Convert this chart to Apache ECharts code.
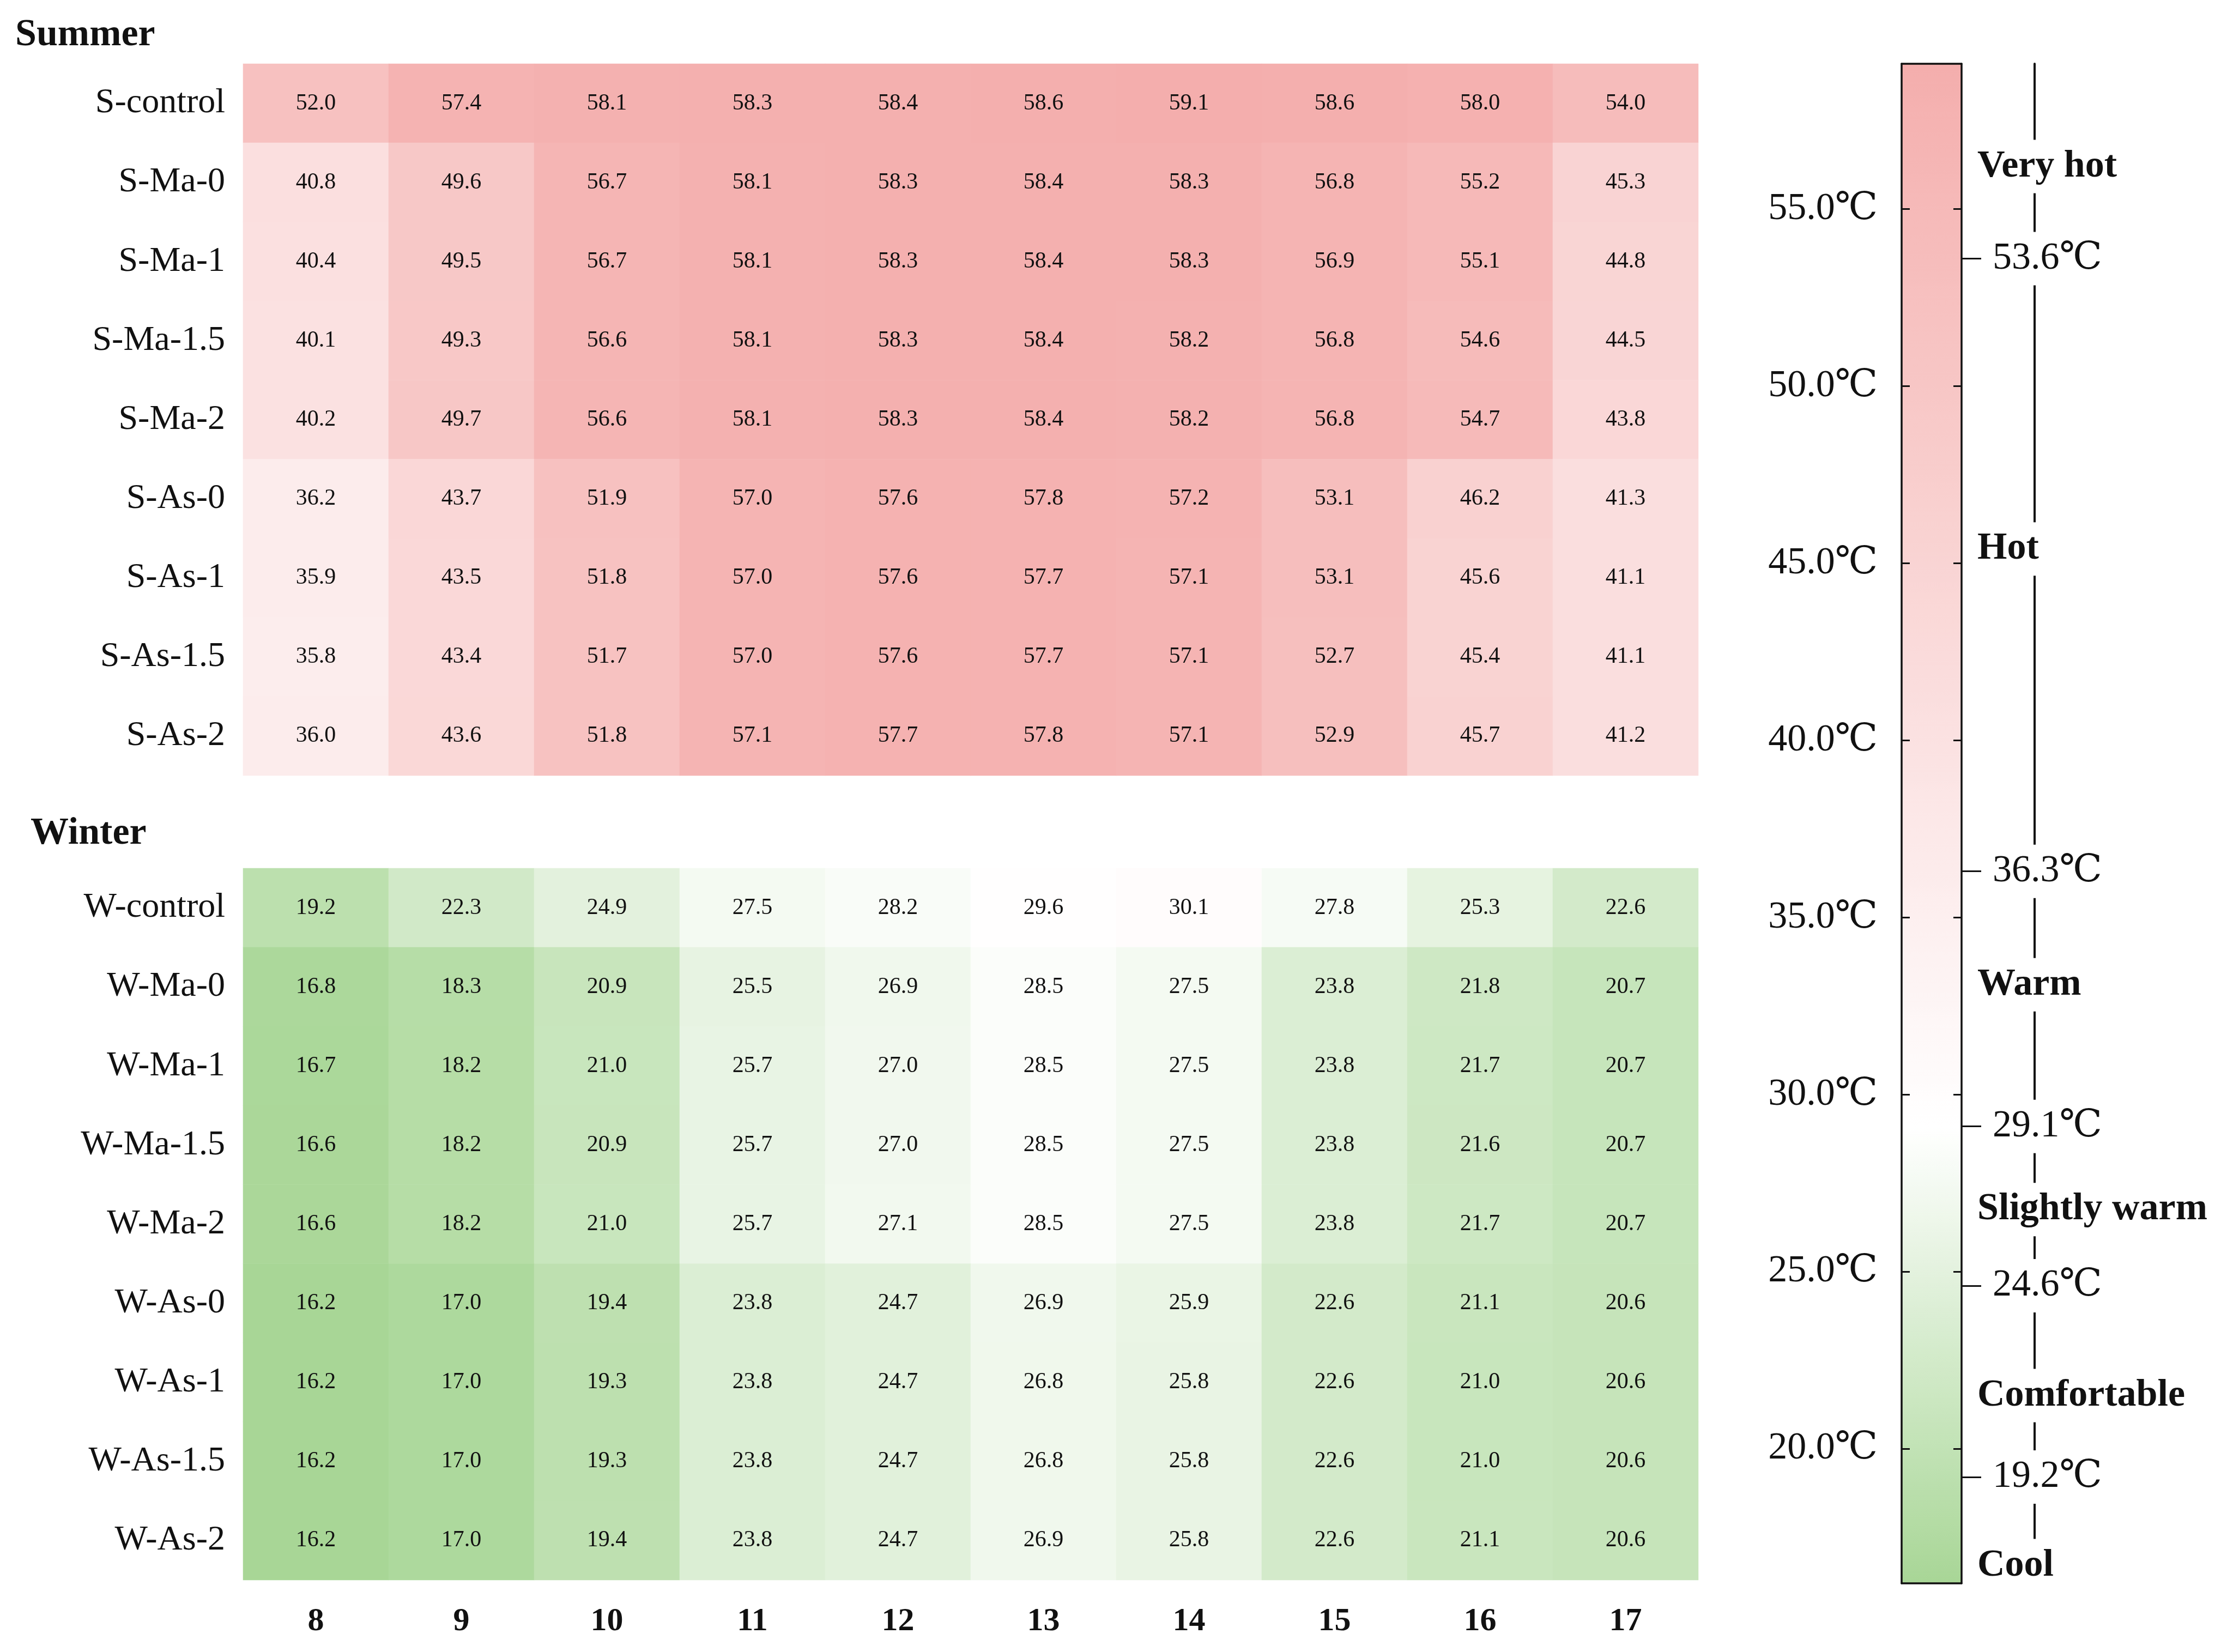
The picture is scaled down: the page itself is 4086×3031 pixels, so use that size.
<!DOCTYPE html>
<html>
<head>
<meta charset="utf-8">
<title>Summer / Winter temperature heatmap</title>
<script src="https://cdn.jsdelivr.net/npm/echarts@6/dist/echarts.min.js"></script>
<style>
  html, body { margin: 0; padding: 0; background: #fff; }
  #chart-root { width: 4086px; height: 3031px; }
</style>
</head>
<body>
<div id="chart-root"></div>
<script>
// hours of the day (x axis)
const hours = ['8', '9', '10', '11', '12', '13', '14', '15', '16', '17'];

const summerRows = ['S-control', 'S-Ma-0', 'S-Ma-1', 'S-Ma-1.5', 'S-Ma-2', 'S-As-0', 'S-As-1', 'S-As-1.5', 'S-As-2'];
const summerValues = [
  [52.0, 57.4, 58.1, 58.3, 58.4, 58.6, 59.1, 58.6, 58.0, 54.0],
  [40.8, 49.6, 56.7, 58.1, 58.3, 58.4, 58.3, 56.8, 55.2, 45.3],
  [40.4, 49.5, 56.7, 58.1, 58.3, 58.4, 58.3, 56.9, 55.1, 44.8],
  [40.1, 49.3, 56.6, 58.1, 58.3, 58.4, 58.2, 56.8, 54.6, 44.5],
  [40.2, 49.7, 56.6, 58.1, 58.3, 58.4, 58.2, 56.8, 54.7, 43.8],
  [36.2, 43.7, 51.9, 57.0, 57.6, 57.8, 57.2, 53.1, 46.2, 41.3],
  [35.9, 43.5, 51.8, 57.0, 57.6, 57.7, 57.1, 53.1, 45.6, 41.1],
  [35.8, 43.4, 51.7, 57.0, 57.6, 57.7, 57.1, 52.7, 45.4, 41.1],
  [36.0, 43.6, 51.8, 57.1, 57.7, 57.8, 57.1, 52.9, 45.7, 41.2]
];

const winterRows = ['W-control', 'W-Ma-0', 'W-Ma-1', 'W-Ma-1.5', 'W-Ma-2', 'W-As-0', 'W-As-1', 'W-As-1.5', 'W-As-2'];
const winterValues = [
  [19.2, 22.3, 24.9, 27.5, 28.2, 29.6, 30.1, 27.8, 25.3, 22.6],
  [16.8, 18.3, 20.9, 25.5, 26.9, 28.5, 27.5, 23.8, 21.8, 20.7],
  [16.7, 18.2, 21.0, 25.7, 27.0, 28.5, 27.5, 23.8, 21.7, 20.7],
  [16.6, 18.2, 20.9, 25.7, 27.0, 28.5, 27.5, 23.8, 21.6, 20.7],
  [16.6, 18.2, 21.0, 25.7, 27.1, 28.5, 27.5, 23.8, 21.7, 20.7],
  [16.2, 17.0, 19.4, 23.8, 24.7, 26.9, 25.9, 22.6, 21.1, 20.6],
  [16.2, 17.0, 19.3, 23.8, 24.7, 26.8, 25.8, 22.6, 21.0, 20.6],
  [16.2, 17.0, 19.3, 23.8, 24.7, 26.8, 25.8, 22.6, 21.0, 20.6],
  [16.2, 17.0, 19.4, 23.8, 24.7, 26.9, 25.8, 22.6, 21.1, 20.6]
];

// colour bar scale
const scaleMin = 16.2;
const scaleMax = 59.1;
const scaleTicks = [20, 25, 30, 35, 40, 45, 50, 55];
// thermal comfort thresholds and class names (label positions on the bar)
const thresholds = [19.2, 24.6, 29.1, 36.3, 53.6];
const comfortNames = ['Cool', 'Comfortable', 'Slightly warm', 'Warm', 'Hot', 'Very hot'];
const comfortAt = [16.7, 21.5, 26.75, 33.1, 45.4, 56.2];

const FONT = '"Liberation Serif", "DejaVu Serif", "Noto Sans CJK SC", serif';
const INK = '#111';

function toCells(rows) {
  let out = [];
  rows.forEach((row, r) => row.forEach((v, c) => out.push([c, r, v])));
  return out;
}

const chart = echarts.init(document.getElementById('chart-root'));

const tickLine = { color: INK, width: 3 };
const frameLine = { color: INK, width: 3.5 };

const option = {
  animation: false,
  backgroundColor: '#fff',
  textStyle: { fontFamily: FONT, color: INK },
  title: [
    { text: 'Summer', left: 28, top: 30, padding: 0,
      textStyle: { fontSize: 70, fontWeight: 'bold', fontFamily: FONT, color: INK } },
    { text: 'Winter', left: 56, top: 1495, padding: 0,
      textStyle: { fontSize: 70, fontWeight: 'bold', fontFamily: FONT, color: INK } }
  ],
  grid: [
    { left: 446, top: 117, width: 2670, height: 1306 },
    { left: 446, top: 1593, width: 2670, height: 1306 },
    { left: 3489, top: 117, width: 110, height: 2788 }
  ],
  visualMap: {
    type: 'continuous',
    min: scaleMin,
    max: scaleMax,
    seriesIndex: [0, 1],
    orient: 'vertical',
    left: 3489,
    top: 117,
    itemWidth: 110,
    itemHeight: 2788,
    padding: 0,
    calculable: false,
    hoverLink: false,
    z: 1,
    inRange: {
      // green -> white (about 29 degC) -> pink
      color: ['#a8d696', '#c5e4b9', '#e2f1dc', '#ffffff', '#fdf3f3', '#fce8e8',
              '#fadcdc', '#f9d1d0', '#f7c5c4', '#f6bab9', '#f4aead']
    }
  },
  xAxis: [
    { gridIndex: 0, type: 'category', data: hours, show: false },
    {
      gridIndex: 1, type: 'category', data: hours, position: 'bottom', offset: 7,
      axisLine: { show: false },
      axisTick: { alignWithLabel: true, length: 24, lineStyle: tickLine },
      axisLabel: { fontSize: 60, fontWeight: 'bold', fontFamily: FONT, color: INK, margin: 39 }
    },
    {
      gridIndex: 2, type: 'value', min: 0, max: 1, position: 'bottom', z: 10,
      axisLine: { show: true, onZero: false, lineStyle: frameLine },
      axisTick: { show: false }, axisLabel: { show: false }, splitLine: { show: false }
    },
    {
      gridIndex: 2, type: 'value', min: 0, max: 1, position: 'top', z: 10,
      axisLine: { show: true, onZero: false, lineStyle: frameLine },
      axisTick: { show: false }, axisLabel: { show: false }, splitLine: { show: false }
    }
  ],
  yAxis: [
    {
      gridIndex: 0, type: 'category', data: summerRows, inverse: true, offset: -24, z: 3,
      axisLine: { show: false },
      axisTick: { alignWithLabel: true, length: 48, lineStyle: tickLine },
      axisLabel: { fontSize: 64, fontFamily: FONT, color: INK, margin: 57 }
    },
    {
      gridIndex: 1, type: 'category', data: winterRows, inverse: true, offset: -24, z: 3,
      axisLine: { show: false },
      axisTick: { alignWithLabel: true, length: 48, lineStyle: tickLine },
      axisLabel: { fontSize: 64, fontFamily: FONT, color: INK, margin: 57 }
    },
    // colour bar: left frame, inner ticks and degree labels
    {
      gridIndex: 2, type: 'value', min: scaleMin, max: scaleMax, position: 'left', z: 10,
      axisLine: { show: true, onZero: false, lineStyle: frameLine },
      axisTick: { show: true, inside: true, length: 15, customValues: scaleTicks, lineStyle: tickLine },
      axisLabel: {
        customValues: scaleTicks, margin: 44, fontSize: 70, fontFamily: FONT, color: INK,
        formatter: v => v.toFixed(1) + '℃'
      },
      splitLine: { show: false }
    },
    // colour bar: right frame with inner ticks
    {
      gridIndex: 2, type: 'value', min: scaleMin, max: scaleMax, position: 'right', z: 10,
      axisLine: { show: true, onZero: false, lineStyle: frameLine },
      axisTick: { show: true, inside: true, length: 15, customValues: scaleTicks, lineStyle: tickLine },
      axisLabel: { show: false },
      splitLine: { show: false }
    },
    // threshold ticks pointing out of the bar
    {
      gridIndex: 2, type: 'value', min: scaleMin, max: scaleMax, position: 'right', z: 12,
      axisLine: { show: false, onZero: false },
      axisTick: { show: true, length: 36, customValues: thresholds, lineStyle: tickLine },
      axisLabel: { show: false },
      splitLine: { show: false }
    },
    // connector line with comfort class names
    {
      gridIndex: 2, type: 'value', min: scaleMin, max: scaleMax, position: 'right', offset: 134, z: 10,
      axisLine: { show: true, onZero: false, lineStyle: { color: INK, width: 4 } },
      axisTick: { show: false },
      axisLabel: {
        customValues: comfortAt, align: 'left', margin: -105,
        fontSize: 70, fontWeight: 'bold', fontFamily: FONT, color: INK,
        backgroundColor: '#fff', padding: [14, 0],
        formatter: v => comfortNames[comfortAt.indexOf(v)]
      },
      splitLine: { show: false }
    },
    // threshold values
    {
      gridIndex: 2, type: 'value', min: scaleMin, max: scaleMax, position: 'right', offset: 134, z: 11,
      axisLine: { show: false, onZero: false },
      axisTick: { show: false },
      axisLabel: {
        customValues: thresholds, align: 'left', margin: -77,
        fontSize: 70, fontFamily: FONT, color: INK,
        backgroundColor: '#fff', padding: [14, 0],
        formatter: v => v.toFixed(1) + '℃'
      },
      splitLine: { show: false }
    }
  ],
  series: [
    {
      name: 'Summer', type: 'heatmap', xAxisIndex: 0, yAxisIndex: 0,
      data: toCells(summerValues),
      label: { show: true, fontSize: 42, fontFamily: FONT, color: INK,
               formatter: p => p.value[2].toFixed(1) },
      emphasis: { disabled: true }
    },
    {
      name: 'Winter', type: 'heatmap', xAxisIndex: 1, yAxisIndex: 1,
      data: toCells(winterValues),
      label: { show: true, fontSize: 42, fontFamily: FONT, color: INK,
               formatter: p => p.value[2].toFixed(1) },
      emphasis: { disabled: true }
    }
  ]
};

chart.setOption(option);
window.onresize = chart.resize;
</script>
</body>
</html>
